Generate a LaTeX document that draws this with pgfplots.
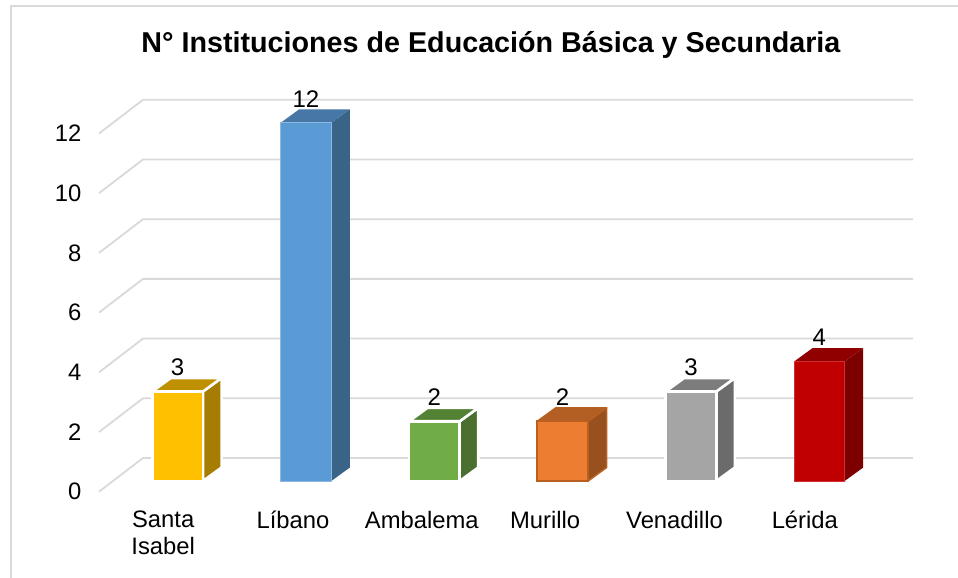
\documentclass[border=0pt]{standalone}
\usepackage{pgfplots}
\pgfplotsset{compat=1.18}
\usepackage{fontspec}
\setmainfont{Liberation Sans}
\definecolor{gridc}{HTML}{D9D9D9}
\definecolor{yf}{HTML}{FFC000}\definecolor{yt}{HTML}{BF9000}\definecolor{ys}{HTML}{A67D00}
\definecolor{bf}{HTML}{5B9BD5}\definecolor{bt}{HTML}{4677A6}\definecolor{bs}{HTML}{396488}
\definecolor{gf}{HTML}{70AD47}\definecolor{gt}{HTML}{548235}\definecolor{gs}{HTML}{4B6F2E}
\definecolor{of}{HTML}{ED7D31}\definecolor{ot}{HTML}{B25E24}\definecolor{os}{HTML}{99501F}\definecolor{oe}{HTML}{B8601F}
\definecolor{af}{HTML}{A5A5A5}\definecolor{at}{HTML}{7C7C7C}\definecolor{as}{HTML}{6B6B6B}
\definecolor{rf}{HTML}{C00000}\definecolor{rt}{HTML}{900000}\definecolor{rs}{HTML}{7D0000}\definecolor{re}{HTML}{D03030}
% depth faces of a bar: #1 position, #2 value, #3 top colour, #4 side colour, #5 edge style
\newcommand{\depthfaces}[5]{%
  \addplot[fill=#4,#5,xshift=14.5pt,yshift=10.7pt] coordinates {({#1+0.1975},0) ({#1+0.342},0.452) ({#1+0.342},{#2+0.452}) ({#1+0.1975},#2)} --cycle;
  \addplot[fill=#3,#5,xshift=14.5pt,yshift=10.7pt] coordinates {({#1-0.1975},#2) ({#1-0.053},{#2+0.452}) ({#1+0.342},{#2+0.452}) ({#1+0.1975},#2)} --cycle;
}
\pgfplotsset{
  frontbar/.style={ybar,bar width=50.7pt,bar shift=0pt,xshift=14.5pt,yshift=10.7pt,
    nodes near coords,
    every node near coord/.append style={font=\fontsize{24}{27}\selectfont,anchor=center,yshift=24pt,text=black}},
  gridl/.style={gridc,line width=1.8pt,no marks},
  whiteedge/.style={draw=white,line width=2.6pt,line join=miter},
}
\begin{document}
\begin{tikzpicture}
\useasboundingbox (-99pt,-86.3pt) rectangle (859pt,491.7pt);
\draw[gridc,line width=1.4pt] (-88pt,-86.3pt) -- (-88pt,485.7pt) -- (859pt,485.7pt);
\begin{axis}[
  scale only axis, width=770pt, height=358.2pt,
  xmin=-0.5, xmax=5.5, ymin=0, ymax=12,
  clip=false,
  axis line style={draw=none},
  tick style={draw=none},
  major tick length=0pt,
  xtick={0,1,2,3,4,5},
  xticklabels={{Santa\\Isabel},{\hspace{3pt}Líbano},{\hspace{4pt}Ambalema},{Murillo\hspace{6pt}},{Venadillo\hspace{4pt}},Lérida},
  ytick={0,2,4,6,8,10,12},
  /pgf/number format/assume math mode=true,
  tick label style={font=\fontsize{23.8}{27}\selectfont},
  x tick label style={align=center,anchor=north,yshift=-16pt},
  y tick label style={anchor=east,xshift=-14pt},
  every axis title shift=0pt,
  title={N° Instituciones de Educación Básica y Secundaria},
  title style={font=\fontsize{28.7}{32}\selectfont\bfseries,at={(axis description cs:0.509,1.247)},anchor=center},
]
% gridlines: slanted side wall, then back wall
\addplot[gridl] coordinates {(-0.5,0) (-0.157,1.129) (5.843,1.129)};
\addplot[gridl] coordinates {(-0.5,2) (-0.157,3.129) (5.843,3.129)};
\addplot[gridl] coordinates {(-0.5,4) (-0.157,5.129) (5.843,5.129)};
\addplot[gridl] coordinates {(-0.5,6) (-0.157,7.129) (5.843,7.129)};
\addplot[gridl] coordinates {(-0.5,8) (-0.157,9.129) (5.843,9.129)};
\addplot[gridl] coordinates {(-0.5,10) (-0.157,11.129) (5.843,11.129)};
\addplot[gridl] coordinates {(-0.5,12) (-0.157,13.129) (5.843,13.129)};
% Santa Isabel
\depthfaces{0}{3}{yt}{ys}{whiteedge}
\addplot[frontbar,fill=yf,whiteedge] coordinates {(0,3)};
% Libano
\depthfaces{1}{12}{bt}{bs}{draw=none}
\addplot[frontbar,fill=bf,draw=bf!70!white,line width=0.6pt] coordinates {(1,12)};
% Ambalema
\depthfaces{2}{2}{gt}{gs}{whiteedge}
\addplot[frontbar,fill=gf,whiteedge] coordinates {(2,2)};
% Murillo
\depthfaces{3}{2}{ot}{os}{draw=oe,line width=1.6pt,line join=round}
\addplot[frontbar,fill=of,draw=oe,line width=1.8pt] coordinates {(3,2)};
% Venadillo
\depthfaces{4}{3}{at}{as}{whiteedge}
\addplot[frontbar,fill=af,whiteedge] coordinates {(4,3)};
% Lerida
\depthfaces{5}{4}{rt}{rs}{draw=none}
\addplot[frontbar,fill=rf,draw=re,line width=0.6pt] coordinates {(5,4)};
\end{axis}
\end{tikzpicture}
\end{document}
